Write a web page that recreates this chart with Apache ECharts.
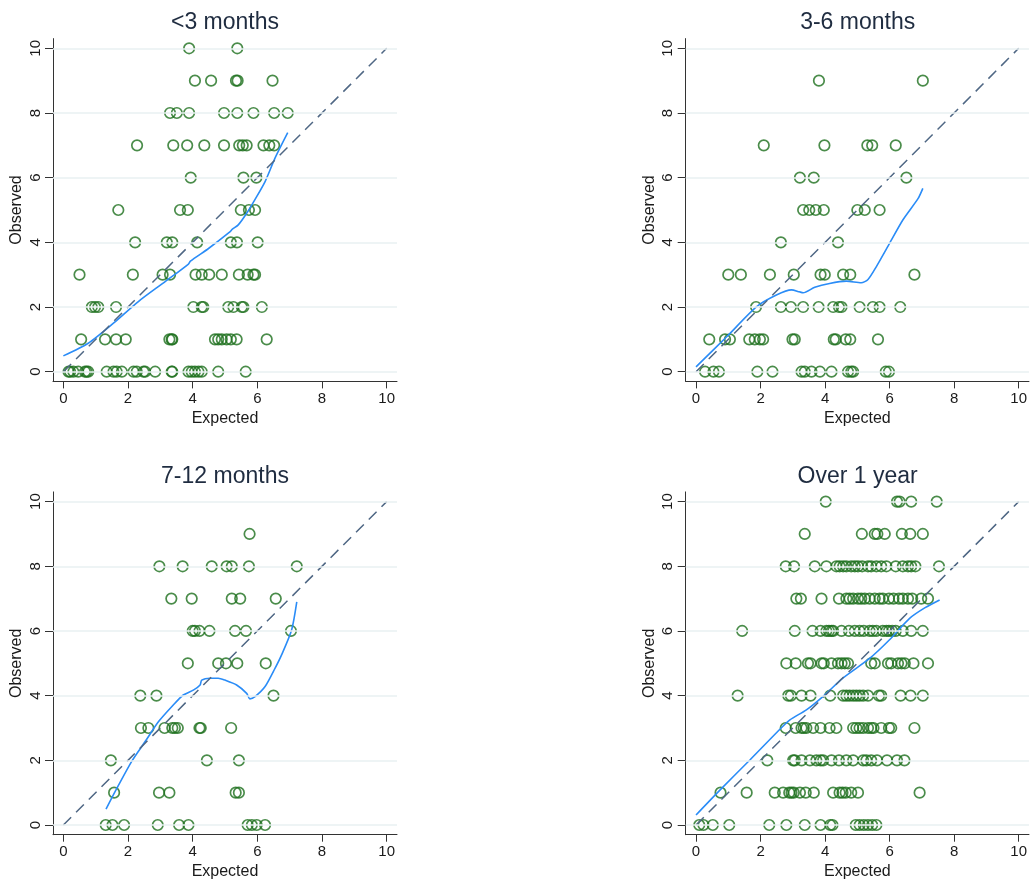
<!DOCTYPE html>
<html>
<head>
<meta charset="utf-8">
<script src="https://cdn.jsdelivr.net/npm/echarts@6/dist/echarts.min.js"></script>
<style>
  html, body { margin: 0; padding: 0; background: #ffffff; }
  #chart { width: 1030px; height: 881px; }
</style>
</head>
<body>
<div id="chart"></div>
<script>
// Panel titles (follow-up duration groups)
const panelTitles = ['<3 months', '3-6 months', '7-12 months', 'Over 1 year'];

// Tick values shared by both axes
const tickValues = [0, 2, 4, 6, 8, 10];

// Expected values of each case, grouped by observed value (row index = observed)
const lt3ByObserved = [
  [0.16, 0.21, 0.31, 0.46, 0.67, 0.72, 0.77, 1.34, 1.55, 1.65, 1.81, 2.17, 2.27, 2.48, 2.53, 2.84, 3.35, 3.37, 3.87, 3.97, 4.07, 4.18, 4.28, 4.79, 5.64],
  [0.55, 1.29, 1.63, 1.93, 3.28, 3.35, 3.37, 4.69, 4.79, 4.90, 5.05, 5.18, 5.36, 6.29],
  [0.88, 0.98, 1.08, 1.63, 4.02, 4.28, 4.33, 5.10, 5.26, 5.52, 5.57, 6.14],
  [0.50, 2.15, 3.07, 3.30, 4.09, 4.28, 4.51, 4.90, 5.43, 5.70, 5.88, 5.93],
  [2.22, 3.20, 3.37, 4.14, 5.18, 5.37, 6.01],
  [1.70, 3.61, 3.85, 5.49, 5.74, 5.93],
  [3.94, 5.57, 5.97],
  [2.28, 3.40, 3.83, 4.36, 4.97, 5.44, 5.55, 5.67, 6.19, 6.37, 6.52],
  [3.30, 3.51, 3.89, 4.97, 5.38, 5.88, 6.52, 6.94],
  [4.07, 4.57, 5.34, 5.39, 6.47],
  [3.89, 5.38]
];
const m3to6ByObserved = [
  [0.28, 0.54, 0.71, 1.90, 2.37, 3.27, 3.37, 3.58, 3.84, 4.20, 4.71, 4.81, 4.87, 5.88, 5.98],
  [0.41, 0.90, 1.05, 1.65, 1.82, 1.98, 2.08, 2.99, 3.06, 4.27, 4.33, 4.64, 4.78, 5.64],
  [1.86, 2.63, 2.94, 3.32, 3.80, 4.25, 4.43, 4.51, 5.07, 5.48, 5.69, 6.33],
  [1.00, 1.39, 2.29, 3.03, 3.86, 3.99, 4.56, 4.78, 6.77],
  [2.63, 4.40],
  [3.32, 3.51, 3.71, 3.96, 5.00, 5.23, 5.69],
  [3.22, 3.65, 6.52],
  [2.10, 3.98, 5.31, 5.46, 6.19],
  [],
  [3.81, 7.03],
  []
];
const m7to12ByObserved = [
  [1.31, 1.52, 1.88, 2.92, 3.58, 3.87, 5.70, 5.83, 5.98, 6.24],
  [1.57, 2.96, 3.28, 5.33, 5.43],
  [1.47, 4.44, 5.43],
  [2.40, 2.63, 3.13, 3.37, 3.45, 3.54, 4.21, 4.25, 5.19],
  [2.38, 2.88, 6.50],
  [3.85, 4.79, 5.03, 5.38, 6.26],
  [4.00, 4.07, 4.21, 4.52, 5.31, 5.65, 7.04],
  [3.34, 3.97, 5.21, 5.47, 6.57],
  [2.97, 3.69, 4.59, 5.05, 5.21, 5.74, 7.22],
  [5.76],
  []
];
const over1yByObserved = [
  [0.10, 0.23, 0.52, 1.03, 2.27, 2.80, 3.37, 3.86, 4.16, 4.23, 4.95, 5.07, 5.20, 5.33, 5.46, 5.59],
  [0.76, 1.57, 2.44, 2.70, 2.89, 2.96, 3.03, 3.22, 3.40, 3.65, 4.25, 4.45, 4.54, 4.64, 4.81, 5.02, 6.93],
  [2.21, 3.01, 3.06, 3.27, 3.53, 3.73, 3.86, 3.94, 4.20, 4.43, 4.66, 4.87, 5.18, 5.28, 5.43, 5.61, 5.92, 6.23, 6.46],
  [2.78, 3.09, 3.27, 3.34, 3.42, 3.63, 3.86, 4.14, 4.35, 4.87, 4.97, 5.07, 5.18, 5.33, 5.43, 5.50, 5.74, 5.98, 6.05, 6.77],
  [1.29, 2.86, 2.94, 3.27, 3.55, 4.16, 4.56, 4.66, 4.76, 4.87, 4.97, 5.07, 5.18, 5.33, 5.67, 5.74, 6.34, 6.65, 7.03],
  [2.80, 3.09, 3.47, 3.55, 3.89, 3.96, 4.20, 4.40, 4.51, 4.61, 4.71, 5.43, 5.54, 5.95, 6.05, 6.26, 6.37, 6.47, 6.74, 7.19],
  [1.43, 3.06, 3.61, 3.86, 4.04, 4.12, 4.20, 4.25, 4.51, 4.74, 4.92, 5.07, 5.20, 5.38, 5.48, 5.59, 5.79, 5.90, 5.98, 6.08, 6.19, 6.41, 6.67, 7.03],
  [3.11, 3.25, 3.89, 4.43, 4.66, 4.76, 4.87, 5.02, 5.12, 5.23, 5.38, 5.54, 5.69, 5.79, 5.98, 6.12, 6.29, 6.41, 6.57, 6.70, 6.98, 7.19],
  [2.78, 3.04, 3.68, 4.04, 4.35, 4.45, 4.56, 4.66, 4.81, 4.92, 5.02, 5.15, 5.33, 5.43, 5.59, 5.74, 5.90, 6.19, 6.41, 6.57, 6.67, 6.80, 7.53],
  [3.37, 5.14, 5.54, 5.62, 5.85, 6.38, 6.64, 7.03],
  [4.02, 6.23, 6.31, 6.67, 7.46]
];

// Lowess smooth of observed on expected, [expected, fitted]
const lt3Lowess = [
  [0.00, 0.49], [0.77, 0.88], [1.55, 1.50], [2.32, 2.17], [3.14, 2.78], [3.87, 3.33], [3.93, 3.42],
  [4.49, 3.81], [5.16, 4.33], [5.22, 4.40], [5.41, 4.54], [5.67, 4.90], [5.93, 5.33], [6.24, 5.88],
  [6.55, 6.61], [6.94, 7.39]
];
const m3to6Lowess = [
  [0.00, 0.15], [0.95, 1.08], [1.88, 2.01], [2.49, 2.37], [2.96, 2.53], [3.20, 2.47], [3.32, 2.44],
  [3.68, 2.61], [4.14, 2.73], [4.66, 2.80], [5.12, 2.75], [5.33, 2.85], [5.59, 3.25], [6.00, 3.97],
  [6.41, 4.69], [6.88, 5.35], [7.03, 5.67]
];
const m7to12Lowess = [
  [1.32, 0.49], [1.60, 1.03], [2.11, 1.96], [2.53, 2.58], [2.94, 3.19], [3.40, 3.71], [3.71, 4.02],
  [4.02, 4.17], [4.23, 4.33], [4.28, 4.48], [4.54, 4.54], [4.79, 4.54], [5.00, 4.48], [5.36, 4.33],
  [5.67, 4.07], [5.77, 3.90], [5.93, 3.97], [6.24, 4.28], [6.55, 4.85], [6.75, 5.26], [7.06, 6.03],
  [7.22, 6.90]
];
const over1yLowess = [
  [0.00, 0.31], [0.74, 1.08], [1.67, 2.01], [2.60, 2.96], [2.91, 3.25], [3.42, 3.56], [3.94, 3.98],
  [4.56, 4.55], [5.38, 5.15], [5.99, 5.72], [6.62, 6.39], [7.10, 6.72], [7.55, 6.96]
];

// Line of perfect agreement (observed = expected)
const agreementLine = [[0, 0], [10, 10]];

const panelScatter = [lt3ByObserved, m3to6ByObserved, m7to12ByObserved, over1yByObserved];
const panelLowess = [lt3Lowess, m3to6Lowess, m7to12Lowess, over1yLowess];

const FONT = '"Liberation Sans", Arial, sans-serif';
const MARKER = '#1d6f1d';
const LOWESS = '#2a8cf7';
const DIAG = '#4f6784';
const GRIDLINE = '#e9f0f2';

// Panel placement (pixels)
const colLeft = [53, 685.7];
const rowTop = [38.6, 491.9];
const plotW = 344, plotH = 342.8;

const grids = [], xAxes = [], yAxes = [], series = [], graphics = [];

panelTitles.forEach((title, i) => {
  const left = colLeft[i % 2];
  const top = rowTop[Math.floor(i / 2)];
  grids.push({ left: left, top: top, width: plotW, height: plotH, containLabel: false });

  xAxes.push({
    gridIndex: i, type: 'value', min: -0.32, max: 10.32,
    name: 'Expected', nameLocation: 'middle', nameGap: 29,
    nameTextStyle: { fontSize: 16, color: '#1a1a1a', fontFamily: FONT },
    axisLine: { show: true, onZero: false, lineStyle: { color: '#333', width: 1 } },
    axisTick: { show: true, length: 7, customValues: tickValues, lineStyle: { color: '#333' } },
    axisLabel: { customValues: tickValues, fontSize: 15, color: '#1a1a1a', fontFamily: FONT, margin: 10 },
    splitLine: { show: false }
  });
  yAxes.push({
    gridIndex: i, type: 'value', min: -0.3, max: 10.3,
    name: 'Observed', nameLocation: 'middle', nameGap: 28, nameRotate: 90,
    nameTextStyle: { fontSize: 16, color: '#1a1a1a', fontFamily: FONT },
    axisLine: { show: true, onZero: false, lineStyle: { color: '#333', width: 1 } },
    axisTick: { show: true, length: 8, customValues: tickValues, lineStyle: { color: '#333' } },
    axisLabel: { customValues: tickValues, rotate: 90, fontSize: 15, color: '#1a1a1a', fontFamily: FONT, margin: 10 },
    splitLine: { show: false }
  });

  // horizontal gridlines at the tick values
  series.push({
    type: 'line', xAxisIndex: i, yAxisIndex: i, data: [], silent: true, z: 1,
    markLine: {
      silent: true, symbol: 'none', label: { show: false },
      lineStyle: { color: GRIDLINE, width: 1.5, type: 'solid' },
      animation: false,
      data: tickValues.map(v => ({ yAxis: v }))
    }
  });

  // observed vs expected cases
  const pts = [];
  panelScatter[i].forEach((row, obs) => row.forEach(x => pts.push([x, obs])));
  series.push({
    type: 'scatter', xAxisIndex: i, yAxisIndex: i, data: pts, z: 2,
    symbol: 'circle', symbolSize: 10.5,
    itemStyle: { color: 'rgba(0,0,0,0)', borderColor: MARKER, borderWidth: 1.7 },
    emphasis: { disabled: true }
  });

  series.push({
    type: 'line', xAxisIndex: i, yAxisIndex: i, data: panelLowess[i], z: 3,
    showSymbol: false, smooth: 0.25,
    lineStyle: { color: LOWESS, width: 1.6 }
  });

  series.push({
    type: 'line', xAxisIndex: i, yAxisIndex: i, data: agreementLine, z: 4,
    showSymbol: false,
    lineStyle: { color: DIAG, width: 1.5, type: [11, 7] }
  });

  graphics.push({
    type: 'text', x: left + plotW / 2, y: top - 15.5,
    style: {
      text: title, fill: '#1f2c40', font: '23px ' + FONT,
      textAlign: 'center', textVerticalAlign: 'middle'
    }
  });
});

const chart = echarts.init(document.getElementById('chart'), null, { renderer: 'canvas' });
chart.setOption({
  backgroundColor: '#ffffff',
  animation: false,
  grid: grids,
  xAxis: xAxes,
  yAxis: yAxes,
  series: series,
  graphic: graphics
});
</script>
</body>
</html>
